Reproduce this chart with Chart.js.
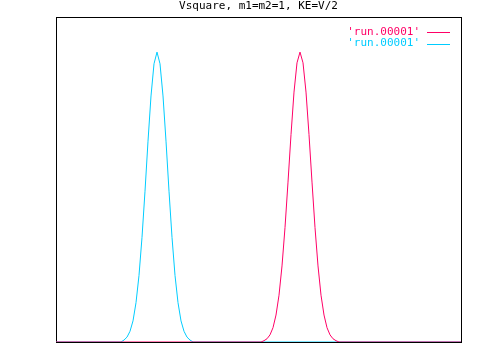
<!DOCTYPE html>
<html>
<head>
<meta charset="utf-8">
<script src="https://cdn.jsdelivr.net/npm/chart.js@4/dist/chart.umd.min.js"></script>
<style>
  body { margin: 0; background: #fff; }
  #myChart { display: block; }
</style>
</head>
<body>
<canvas id="myChart" width="480" height="360"></canvas>
<script>
var title = "Vsquare, m1=m2=1, KE=V/2";
var labels = ["'run.00001'", "'run.00001'"];
var colors = ['#ff0066', '#00ccff'];

// first run (magenta), drawn first
var magentaX = [0, 205, 208, 211, 214, 217, 220, 223, 226, 229, 232, 235, 238, 241, 244, 247, 250, 253, 256, 259, 262, 265, 268, 271, 274, 277, 280, 283, 405];
var magentaY = [0, 0, 0.004, 0.010, 0.022, 0.044, 0.083, 0.144, 0.234, 0.352, 0.492, 0.638, 0.769, 0.859, 0.892, 0.859, 0.769, 0.638, 0.492, 0.352, 0.234, 0.144, 0.083, 0.044, 0.022, 0.010, 0.004, 0, 0];

// second run (cyan), drawn on top
var cyanX = [0, 65, 68, 71, 74, 77, 80, 83, 86, 89, 92, 95, 98, 101, 104, 107, 110, 113, 116, 119, 122, 125, 128, 131, 134, 137, 405];
var cyanY = [0, 0, 0.006, 0.015, 0.033, 0.065, 0.121, 0.205, 0.322, 0.464, 0.618, 0.757, 0.856, 0.892, 0.856, 0.757, 0.618, 0.464, 0.322, 0.205, 0.121, 0.065, 0.033, 0.015, 0.006, 0, 0];

function toPoints(xs, ys) {
  var pts = [];
  for (var i in xs) {
    pts.push({x: xs[i], y: ys[i]});
  }
  return pts;
}

var font = '11px "DejaVu Sans Mono", monospace';

// gnuplot-ish frame, title and key
var frame = {
  id: 'frame',
  beforeDatasetsDraw: function(chart) {
    var c = chart.ctx, a = chart.chartArea;
    c.save();
    c.strokeStyle = '#000';
    c.lineWidth = 1;
    c.strokeRect(a.left + 0.5, a.top + 0.5, a.right - a.left, a.bottom - a.top);
    c.fillStyle = '#000';
    c.font = font;
    c.textAlign = 'center';
    c.textBaseline = 'middle';
    c.fillText(title, (a.left + a.right) / 2, 6);
    c.restore();
  },
  afterDatasetsDraw: function(chart) {
    var c = chart.ctx;
    c.save();
    c.font = font;
    c.textAlign = 'right';
    c.textBaseline = 'middle';
    for (var i = 0; i < labels.length; i++) {
      var y = 32 + i * 11.5;
      c.fillStyle = colors[i];
      c.fillText(labels[i], 420, y);
      c.strokeStyle = colors[i];
      c.lineWidth = 1;
      c.beginPath();
      c.moveTo(427, Math.round(y) + 0.5);
      c.lineTo(450, Math.round(y) + 0.5);
      c.stroke();
    }
    c.restore();
  }
};

var chartdata = {
  datasets: [
    {
      label: labels[0],
      data: toPoints(magentaX, magentaY),
      borderColor: colors[0],
      borderWidth: 1,
      pointRadius: 0,
      tension: 0,
      fill: false
    },
    {
      label: labels[1],
      data: toPoints(cyanX, cyanY),
      borderColor: colors[1],
      borderWidth: 1,
      pointRadius: 0,
      tension: 0,
      fill: false
    }
  ]
};

var ctx = document.getElementById('myChart');

var lineGraph = new Chart(ctx, {
  type: 'line',
  data: chartdata,
  plugins: [frame],
  options: {
    responsive: false,
    animation: false,
    layout: { padding: { left: 56, top: 17, right: 19, bottom: 18 } },
    plugins: {
      legend: { display: false },
      title: { display: false },
      tooltip: { enabled: false }
    },
    scales: {
      x: { type: 'linear', min: 0, max: 405, display: false },
      y: { min: 0, max: 1, display: false }
    }
  }
});
</script>
</body>
</html>
